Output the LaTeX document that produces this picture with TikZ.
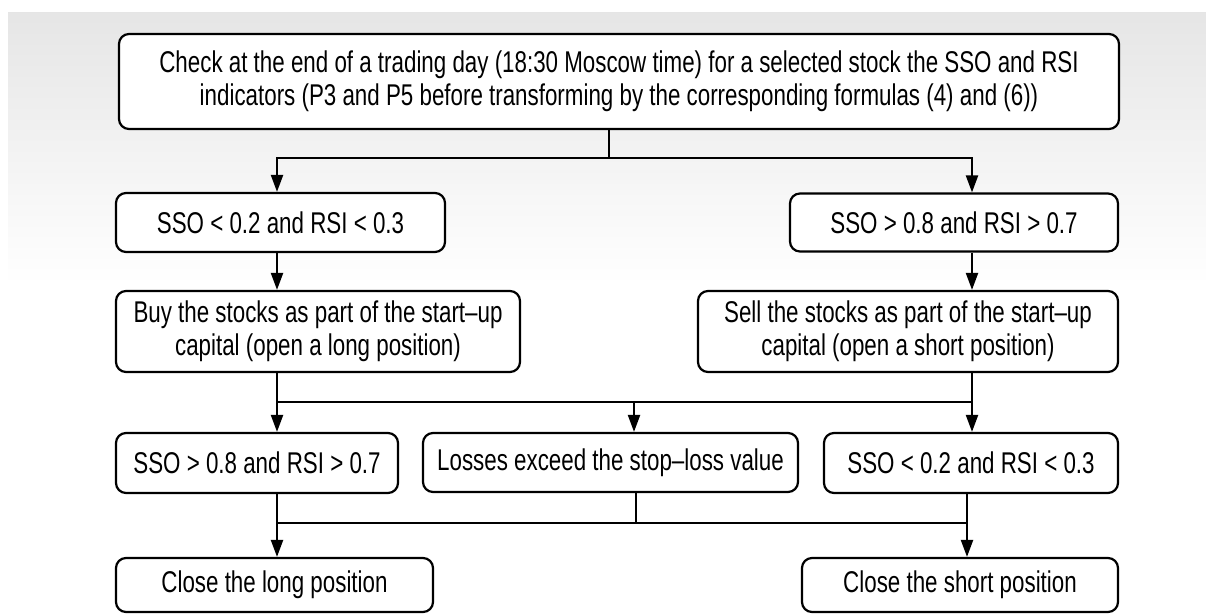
\documentclass[tikz,border=0pt]{standalone}
\usepackage{fontspec}
\setmainfont[FakeStretch=0.745]{Liberation Sans}
\usetikzlibrary{arrows.meta}

\begin{document}
\begin{tikzpicture}[x=1pt,y=-1pt,
        box/.style={draw, line width=2.2pt, rounded corners=10pt, fill=white,
            align=center, inner sep=0pt, font=\fontsize{30}{33}\selectfont},
        ln/.style={line width=2.2pt},
        arr/.style={ln, -{Triangle[length=17pt,width=12pt]}}]
            % 背景 (上方灰色渐变)
            \useasboundingbox (0,0) rectangle (1206,614);
            \shade[top color=black!10, bottom color=white] (8,12) rectangle (1206,285);

            % 顶部方框
            \node[box, minimum width=1000pt, minimum height=95pt] (check) at (619,81.5)
                {Check at the end of a trading day (18:30 Moscow time) for a selected stock the SSO and RSI\\
                 indicators (P3 and P5 before transforming by the corresponding formulas (4) and (6))};

            % 开仓条件
            \node[box, minimum width=329pt, minimum height=59pt] (buycond) at (280.5,222.5) {SSO < 0.2 and RSI < 0.3};
            \node[box, minimum width=328pt, minimum height=58pt] (sellcond) at (954,222.5) {SSO > 0.8 and RSI > 0.7};

            % 开仓
            \node[box, minimum width=404pt, minimum height=81pt] (buy) at (318,331.5)
                {Buy the stocks as part of the start--up\\capital (open a long position)};
            \node[box, minimum width=420pt, minimum height=81pt] (sell) at (908,331.5)
                {Sell the stocks as part of the start--up\\capital (open a short position)};

            % 平仓条件
            \node[box, minimum width=282pt, minimum height=60pt] (exitlong) at (257,463) {SSO > 0.8 and RSI > 0.7};
            \node[box, minimum width=375pt, minimum height=59pt] (stoploss) at (610.5,462.5) {Losses exceed the stop--loss value};
            \node[box, minimum width=294pt, minimum height=60pt] (exitshort) at (971,463) {SSO < 0.2 and RSI < 0.3};

            % 平仓
            \node[box, minimum width=317pt, minimum height=54pt] (closelong) at (274.5,585) {Close the long position};
            \node[box, minimum width=316pt, minimum height=54pt] (closeshort) at (960,585) {Close the short position};

            % 连线用的坐标
            \coordinate (lx) at (277,0);
            \coordinate (rx) at (972,0);
            \coordinate (rx2) at (967,0);
            \coordinate (split) at (609,158);
            \coordinate (mid1) at (634,402);
            \coordinate (mid2) at (636,523);

            % 顶部 -> 开仓条件
            \draw[ln] (check.south -| split) -- (split);
            \draw[arr] (split) -| (buycond.north -| lx);
            \draw[arr] (split) -| (sellcond.north -| rx);

            % 开仓条件 -> 开仓
            \draw[arr] (buycond.south -| lx) -- (buy.north -| lx);
            \draw[arr] (sellcond.south -| rx) -- (sell.north -| rx);

            % 开仓 -> 平仓条件
            \draw[arr] (buy.south -| lx) -- (exitlong.north -| lx);
            \draw[arr] (sell.south -| rx) -- (exitshort.north -| rx);
            \draw[ln] (mid1 -| lx) -- (mid1 -| rx);
            \draw[arr] (mid1) -- (stoploss.north -| mid1);

            % 平仓条件 -> 平仓
            \draw[arr] (exitlong.south -| lx) -- (closelong.north -| lx);
            \draw[arr] (exitshort.south -| rx2) -- (closeshort.north -| rx2);
            \draw[ln] (mid2 -| lx) -- (mid2 -| rx2);
            \draw[ln] (stoploss.south -| mid2) -- (mid2);

\end{tikzpicture}
\end{document}
